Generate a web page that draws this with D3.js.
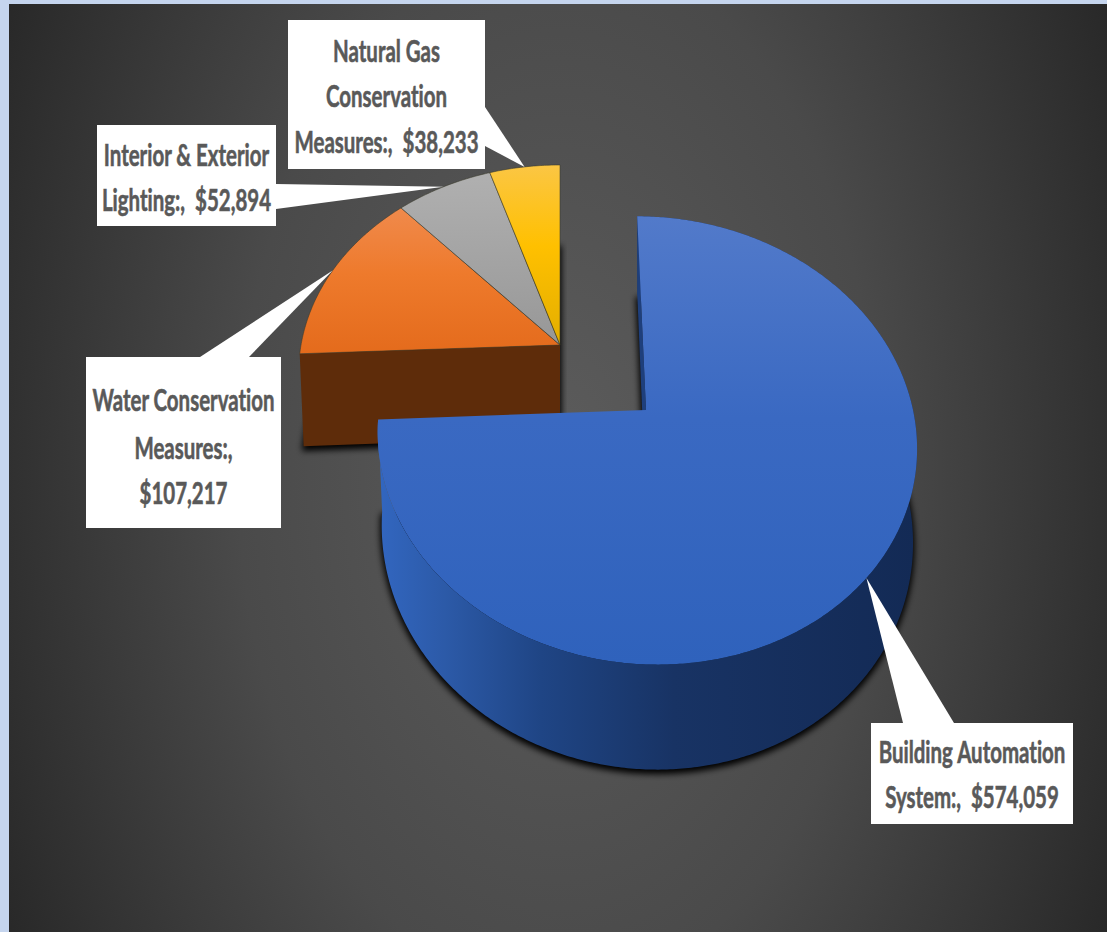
<!DOCTYPE html>
<html>
<head>
<meta charset="utf-8">
<script src="https://cdn.jsdelivr.net/npm/d3@7"></script>
<style>
  html, body { margin: 0; padding: 0; background: #c5d5ee; overflow: hidden; }
  svg { display: block; }
  text {
    font-family: Lato, "Open Sans", sans-serif;
    font-weight: 700;
    fill: #595959;
    stroke: #595959;
    stroke-width: 0.6;
    white-space: pre;
    font-variant-ligatures: none;
  }
</style>
</head>
<body>
<div id="app"></div>
<script>
const categories = [
  "Building Automation System",
  "Water Conservation Measures",
  "Interior & Exterior Lighting",
  "Natural Gas Conservation Measures",
];
const values = [574059, 107217, 52894, 38233];
const labelLines = [
  ["Building Automation", "System:,  $574,059"],
  ["Water Conservation", "Measures:,", "$107,217"],
  ["Interior & Exterior", "Lighting:,  $52,894"],
  ["Natural Gas", "Conservation", "Measures:,  $38,233"],
];
const faceStops = [
  ["#527aca", "#3a69c2", "#2f62bc"],
  ["#f08a4c", "#ee7a2c", "#e46b1c"],
  ["#b0b0b0", "#a5a5a5", "#979797"],
  ["#fbc644", "#ffc000", "#e3ae00"],
];
const wallColors = ["url(#blueWall)", "#5e2c0a"];

const width = 1107;
const height = 932;

const svg = d3.select("#app").append("svg").attr("width", width).attr("height", height);
const defs = svg.append("defs");

const bg = defs.append("radialGradient").attr("id", "bg")
  .attr("gradientUnits", "userSpaceOnUse")
  .attr("cx", 0).attr("cy", 0).attr("r", 1)
  .attr("gradientTransform", "translate(558,470) scale(640,1050)");
bg.append("stop").attr("offset", 0).attr("stop-color", "#5c5c5c");
bg.append("stop").attr("offset", 0.5).attr("stop-color", "#4a4a4a");
bg.append("stop").attr("offset", 1).attr("stop-color", "#262626");

const blueWall = defs.append("linearGradient").attr("id", "blueWall")
  .attr("gradientUnits", "userSpaceOnUse")
  .attr("x1", 380).attr("x2", 915).attr("y1", 0).attr("y2", 0);
[[0, "#3266bf"], [0.12, "#2c5aa8"], [0.3, "#1f4585"], [0.55, "#183364"], [1, "#132a55"]]
  .forEach(([o, c]) => blueWall.append("stop").attr("offset", o).attr("stop-color", c));

faceStops.forEach((s, i) => {
  const g = defs.append("linearGradient").attr("id", `face${i}`)
    .attr("x1", 0).attr("x2", 0).attr("y1", 0).attr("y2", 1);
  s.forEach((c, k) => g.append("stop").attr("offset", k / 2 * 0.9 + (k === 2 ? 0.1 : 0)).attr("stop-color", c));
});

defs.append("filter").attr("id", "shadow")
  .attr("x", "-10%").attr("y", "-10%").attr("width", "120%").attr("height", "120%")
  .append("feGaussianBlur").attr("stdDeviation", 3);

svg.append("rect").attr("x", 9).attr("y", 4).attr("width", width - 9).attr("height", height - 4)
  .attr("fill", "url(#bg)");

// perspective disc: blue slice is pulled out from the rest
const discs = [
  { cx: 646, cy: 410, rx: 267, ry: 220, s: -10 },
  { cx: 560, cy: 345, rx: 259, ry: 204.5, s: 0 },
];
const tilt = 0.136;

const top3d = (d, a, r = 1) => {
  const u = r * Math.sin(a);
  const v = r * Math.cos(a);
  const w = 1 + tilt * v;
  return [d.cx + (d.rx * u + d.s * v) / w, d.cy - (d.ry * v) / w, v];
};
const lower = (d, p) => [d.cx + (p[0] - d.cx) * 0.985, p[1] + 92 - 13 * p[2]];

const arcs = d3.pie().sort(null).value((d) => d)(values);
const line = d3.line();
const path = (pts) => line(pts) + "Z";
const arcPts = (d, a) => {
  const n = Math.ceil((a.endAngle - a.startAngle) / 0.01);
  return d3.range(n + 1).map((k) =>
    top3d(d, a.startAngle + ((a.endAngle - a.startAngle) * k) / n));
};
const discOf = (i) => (i === 0 ? discs[0] : discs[1]);

const drawGroup = (idx) => {
  const d = discOf(idx[0]);
  const g = svg.append("g");
  const center = top3d(d, 0, 0);

  // shadow falls from the lower disc only
  idx.forEach((i) => {
    const pts = arcPts(d, arcs[i]).map((p) => lower(d, p));
    g.append("path")
      .attr("d", path([lower(d, center), ...pts]))
      .attr("fill", "#000")
      .attr("stroke", "#000")
      .attr("stroke-width", 3)
      .attr("transform", "translate(0,3)")
      .attr("filter", "url(#shadow)");
  });

  idx.forEach((i) => {
    const pts = arcPts(d, arcs[i]);
    const first = pts[0];
    if (i === 0) {
      g.append("path")
        .attr("d", path([...pts, ...pts.map((p) => lower(d, p)).reverse()]))
        .attr("fill", wallColors[0]);
      g.append("path")
        .attr("d", path([center, first, lower(d, first), lower(d, center)]))
        .attr("fill", "#1e3f7c");
    }
    if (i === 1) {
      g.append("path")
        .attr("d", path([center, first, lower(d, first), lower(d, center)]))
        .attr("fill", wallColors[1]);
    }
    g.append("path")
      .attr("d", path([center, ...pts]))
      .attr("fill", `url(#face${i})`)
      .attr("stroke", i === 0 ? "none" : "#3a3a2a")
      .attr("stroke-opacity", 0.7)
      .attr("stroke-width", 0.8);
  });
};

drawGroup([1, 2, 3]);
drawGroup([0]);

// callouts
const boxes = [
  { x: 871, y: 723, w: 202, h: 101, base: [[903, 723], [954, 723]], lines: [763, 808] },
  { x: 86, y: 357, w: 195, h: 171, base: [[200, 357], [249, 357]], lines: [411, 459, 504] },
  { x: 97, y: 125, w: 179, h: 101, base: [[276, 184], [276, 209]], lines: [166, 211] },
  { x: 288, y: 20, w: 197, h: 149, base: [[485, 107], [485, 146]], lines: [62, 107, 153] },
];

const labels = svg.selectAll("g.label").data(boxes).join("g").attr("class", "label");
labels.append("path")
  .attr("d", (b, i) => {
    const a = arcs[i];
    const tip = top3d(discOf(i), (a.startAngle + a.endAngle) / 2);
    return path([b.base[0], tip.slice(0, 2), b.base[1]]);
  })
  .attr("fill", "#fff");
labels.append("rect")
  .attr("x", (b) => b.x).attr("y", (b) => b.y)
  .attr("width", (b) => b.w).attr("height", (b) => b.h)
  .attr("fill", "#fff");
labels.each(function (b, i) {
  const cx = b.x + b.w / 2;
  d3.select(this).selectAll("text")
    .data(labelLines[i])
    .join("text")
    .attr("aria-label", categories[i])
    .text((t) => t)
    .attr("text-anchor", "middle")
    .attr("font-size", 31)
    .attr("transform", (t, k) => `translate(${cx},${b.lines[k]}) scale(0.66,1)`);
});
</script>
</body>
</html>
